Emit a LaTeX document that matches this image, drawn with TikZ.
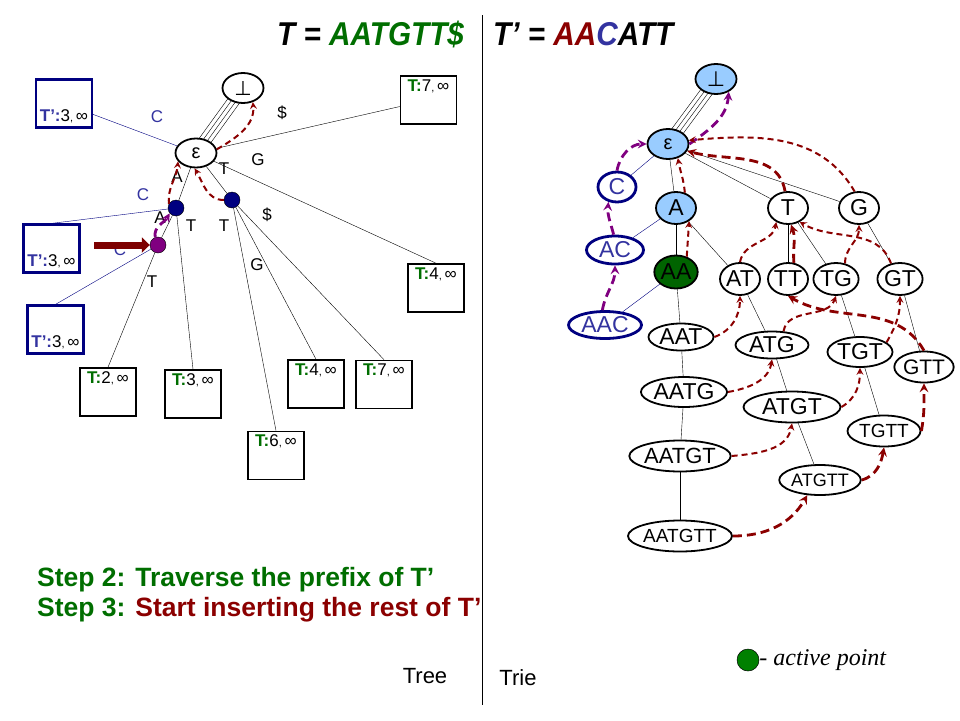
\documentclass[tikz,border=0pt]{standalone}
\usepackage{fontspec}
\setmainfont{Liberation Sans}
\newfontfamily\titlefont[FakeStretch=0.9]{Liberation Sans}
\newfontfamily\perpfont{DejaVu Sans}
\newfontfamily\apfont{Liberation Serif}
\usepackage{tikz}
\usetikzlibrary{shapes.geometric,arrows.meta,backgrounds,calc,positioning}

\definecolor{dred}{RGB}{139,0,0}
\definecolor{tgreen}{RGB}{0,110,0}
\definecolor{dgreen}{RGB}{0,100,0}
\definecolor{agreen}{RGB}{0,128,0}
\definecolor{navyb}{RGB}{0,0,128}
\definecolor{tblue}{RGB}{51,51,160}
\definecolor{purp}{RGB}{128,0,128}
\definecolor{lblue}{RGB}{153,204,255}

\newcommand{\tlab}[1]{\textcolor{tgreen}{\textbf{T:}}#1{\fontsize{11}{11}\selectfont,}\,∞}
\newcommand{\tplab}[1]{\textcolor{tblue}{\textbf{T’:}}#1{\fontsize{11}{11}\selectfont,}\,∞}
\newcommand{\leafT}[4]
{
	\node[tbox] (#1) at (#2,#3) {};
	\node[boxtxt,anchor=north] (#1-txt) at ([yshift=-3pt]#1.north) {\tlab{#4}};
}
\newcommand{\leafTp}[4]
{
	\node[tpbox] (#1) at (#2,#3) {};
	\node[boxtxt,anchor=south] (#1-txt) at ([yshift=4pt]#1.south) {\tplab{#4}};
}

\begin{document}
\begin{tikzpicture}[x=1pt,y=-1pt,>=stealth,
	lbl/.style={font=\fontsize{17}{17}\selectfont,inner sep=0pt},
	boxtxt/.style={font=\fontsize{17}{17}\selectfont,inner sep=1pt},
	tbox/.style={draw,line width=1.6pt,minimum width=56pt,minimum height=48pt,inner sep=0pt},
	tpbox/.style={tbox,draw=navyb,line width=2.2pt},
	lnode/.style={ellipse,draw,line width=1.8pt,fill=white,inner sep=0pt,minimum width=41pt,minimum height=30pt,font=\fontsize{20}{20}\selectfont},
	inode/.style={circle,fill=navyb,draw=black,line width=0.4pt,inner sep=0pt,minimum size=16pt},
	rnode/.style={ellipse,draw,line width=1.8pt,fill=white,inner sep=0pt,minimum width=40pt,minimum height=32pt,font=\fontsize{23}{23}\selectfont},
	cnode/.style={rnode,draw=navyb,line width=2.8pt,text=tblue},
	tline/.style={line width=1pt},
	slink/.style={->,draw=dred,line width=2pt,dash pattern=on 6pt off 4pt},
	slinkb/.style={slink,line width=2.8pt,dash pattern=on 9pt off 5pt},
	plink/.style={slink,draw=purp,line width=2.8pt,dash pattern=on 9pt off 5pt},
]
\useasboundingbox (0,0) rectangle (960,720);

% titles
\node[anchor=base west,inner sep=0pt,font=\fontsize{33}{33}\titlefont\bfseries\itshape] (ttl) at (277,45) {T = \textcolor{tgreen}{AATGTT\$}};
\node[anchor=base west,inner sep=0pt,font=\fontsize{33}{33}\titlefont\bfseries\itshape] (ttr) at (493,45) {T’ = \textcolor{dred}{AA}\textcolor{tblue}{C}ATT};
\coordinate (dtop) at (482,15);
\coordinate (dbot) at (482,705);
\draw[tline] (dtop) -- (dbot);

% tree (left)
\node[lnode] (lbot) at (243,88) {\perpfont ⊥};
\node[lnode,minimum height=29pt] (leps) at (196,153) {ε};
\node[inode] (n1) at (176,208) {};
\node[inode] (n2) at (232,200) {};
\node[inode,fill=purp] (np) at (158,245) {};

\leafTp{tp1}{64}{103.5}{3}
\leafTp{tp2}{51.5}{248.5}{3}
\leafTp{tp3}{55.5}{329.5}{3}
\leafT{t7a}{428.5}{100}{7}
\leafT{t4a}{436}{288}{4}
\leafT{t2}{108}{392}{2}
\leafT{t3}{193}{394}{3}
\leafT{t6}{276}{455.5}{6}
\leafT{t4b}{316}{384}{4}
\leafT{t7b}{384}{384.5}{7}

\node[lbl,text=tblue] (lc1) at (157,117) {C};
\node[lbl] (ld1) at (282,113) {\$};
\node[lbl] (lg1) at (258,160) {G};
\node[lbl] (la1) at (177,177) {A};
\node[lbl] (lt1) at (224,169) {T};
\node[lbl,text=tblue] (lc2) at (143,195) {C};
\node[lbl] (la2) at (160,218) {A};
\node[lbl] (lt2) at (191,226) {T};
\node[lbl] (lt3) at (224,226) {T};
\node[lbl] (ld2) at (267,215) {\$};
\node[lbl] (lg2) at (257,265) {G};
\node[lbl] (lt4) at (152,282) {T};

\begin{scope}[on background layer,tline]
	\foreach \d in {-6,-2,2,6}
		\draw ($(leps)!\d pt!90:(lbot)$) -- ($(lbot)!\d pt!-90:(leps)$);
	\draw[navyb] (tp1) -- (leps);
	\draw (t7a) -- (leps);
	\draw (leps) -- (t4a.north);
	\draw (leps) -- (n1) -- (np) -- (t2.north);
	\draw (n1) -- (t3.north);
	\draw[navyb] (n1) -- (tp2.north);
	\draw[navyb] (np) -- (tp3.north);
	\draw (leps) -- (n2);
	\draw (n2) -- (t6.north);
	\draw (n2) -- (t4b.north);
	\draw (n2) -- (t7b.north);
\end{scope}

\node[lbl,text=tblue] (lc3) at (120,250) {C};
\coordinate (ptr) at (94,245);
\draw[dred!90!black,line width=7pt,-{Triangle[length=8pt,width=15pt]}] (ptr) -- (np.west);

\draw[slink] (leps.10) to[out=30,in=-85] (lbot.-55);
\draw[slink] (n1.150) to[out=95,in=-95] (leps.205);
\draw[slink] (n2.west) to[out=180,in=-60] (leps.-95);
\draw[plink] (np.110) to[out=100,in=-120] (n1.220);

% trie (right)
\node[rnode,fill=lblue,minimum width=41pt,minimum height=30pt,font=\fontsize{21}{21}\selectfont] (rbot) at (716,79) {\perpfont ⊥};
\node[rnode,fill=lblue,minimum width=41pt,minimum height=30pt,font=\fontsize{20}{20}\selectfont] (reps) at (668,144) {ε};
\node[cnode,minimum width=38pt,minimum height=30pt] (rC) at (617,187) {C};
\node[rnode,fill=lblue] (rA) at (676,208) {A};
\node[rnode] (rT) at (788,208) {T};
\node[rnode] (rG) at (859,208) {G};
\node[cnode,minimum width=57pt,minimum height=28pt] (rAC) at (615,250) {AC};
\node[rnode,fill=dgreen,minimum height=33pt] (rAA) at (676,272) {AA};
\node[rnode] (rAT) at (740,279) {AT};
\node[rnode] (rTT) at (788,279) {TT};
\node[rnode] (rTG) at (836,279) {TG};
\node[rnode] (rGT) at (900,279) {GT};
\node[cnode,minimum width=73pt,minimum height=27pt] (rAAC) at (605,325) {AAC};
\node[rnode,minimum width=65pt,minimum height=27pt] (rAAT) at (681,337) {AAT};
\node[rnode,minimum width=73pt,minimum height=27pt] (rATG) at (772,345) {ATG};
\node[rnode,minimum width=57pt,minimum height=30pt] (rTGT) at (860,352) {TGT};
\node[rnode,minimum width=57pt,minimum height=31pt,font=\fontsize{21}{21}\selectfont] (rGTT) at (924,367) {GTT};
\node[rnode,minimum width=73pt,minimum height=30pt] (rAATG) at (684,392) {AATG};
\node[rnode,minimum width=97pt,minimum height=31pt] (rATGT) at (792,407) {ATGT};
\node[rnode,minimum width=73pt,minimum height=31pt,font=\fontsize{19}{19}\selectfont] (rTGTT) at (884,431) {TGTT};
\node[rnode,minimum width=97pt,minimum height=31pt,font=\fontsize{22}{22}\selectfont] (rAATGT) at (680,456) {AATGT};
\node[rnode,minimum width=73pt,minimum height=30pt,font=\fontsize{18}{18}\selectfont] (rATGTT) at (820,480) {ATGTT};
\node[rnode,minimum width=97pt,minimum height=31pt,font=\fontsize{19}{19}\selectfont] (rAATGTT) at (680,536) {AATGTT};

\begin{scope}[on background layer,tline]
	\foreach \d in {-6,-2,2,6}
		\draw ($(reps)!\d pt!90:(rbot)$) -- ($(rbot)!\d pt!-90:(reps)$);
	\foreach \a/\b in {reps/rA,reps/rT,reps/rG,rA/rAA,rA/rAT,rT/rTT,rT/rTG,rG/rGT,rAA/rAAT,rAT/rATG,rTG/rTGT,rGT/rGTT,rAAT/rAATG,rATG/rATGT,rTGT/rTGTT,rAATG/rAATGT,rATGT/rATGTT,rAATGT/rAATGTT}
		\draw (\a) -- (\b);
	\foreach \a/\b in {reps/rC,rA/rAC,rAA/rAAC}
		\draw[navyb] (\a) -- (\b);
\end{scope}

\draw[plink] (reps.east) to[out=35,in=-95] (rbot.-45);
\draw[plink] (rC.north) to[out=80,in=180] (reps.west);
\draw[plink] (rAC.95) to[out=105,in=-95] (rC.240);
\draw[plink] (rAAC.100) to[out=80,in=-90] (rAC.south);
\draw[slink] (rA.60) to[out=95,in=-80] (reps.-55);
\draw[slink] (rAA.55) -- (rA.-45);
\draw[slinkb] (rT.100) to[out=100,in=-15] (reps.-20);
\draw[slink] (rG.105) to[out=120,in=5] (reps.10);
\draw[slink] (rAT.north) to[out=80,in=-100] (rT.-130);
\draw[slinkb] (rTT.70) to[out=95,in=-70] (rT.-80);
\draw[slink] (rTG.60) to[out=90,in=-90] (rG.south);
\draw[slink] (rGT.120) to[out=110,in=-30] (rT.-50);
\draw[slink] (rAAT.east) to[out=20,in=-90] (rAT.south);
\draw[slink] (rATG.50) to[out=80,in=-110] (rTG.south);
\draw[slinkb] (rGTT.north) to[out=120,in=-30] (rTT.south);
\draw[slink] (rTGT.20) to[out=60,in=-90] (rGT.south);
\draw[slink] (rAATG.east) to[out=10,in=-100] (rATG.south);
\draw[slink] (rATGT.east) to[out=30,in=-90] (rTGT.south);
\draw[slink] (rAATGT.east) to[out=5,in=-100] (rATGT.south);
\draw[slinkb] (rTGTT.east) to[out=80,in=-90] (rGTT.south);
\draw[slinkb] (rATGTT.east) to[out=15,in=-100] (rTGTT.south);
\draw[slinkb] (rAATGTT.east) to[out=0,in=-120] (rATGTT.-130);

% steps and legend
\node[anchor=base west,inner sep=0pt,text=tgreen,font=\fontsize{26.5}{26.5}\selectfont\bfseries] (step2) at (37,586) {Step 2: Traverse the prefix of T’};
\node[anchor=base west,inner sep=0pt,text=tgreen,font=\fontsize{26.5}{26.5}\selectfont\bfseries] (step3) at (37,616) {Step 3: \textcolor{dred}{Start inserting the rest of T’}};
\node[font=\fontsize{22}{22}\selectfont] (tree) at (425,676) {Tree};
\node[font=\fontsize{22}{22}\selectfont] (trie) at (518,678) {Trie};
\node[circle,fill=agreen,draw=black,line width=0.5pt,minimum size=22pt,inner sep=0pt] (apdot) at (748,660) {};
\node[anchor=west,inner sep=0pt,font=\fontsize{24}{24}\apfont\itshape] (aptxt) at (apdot.east) {- active point};
\end{tikzpicture}
\end{document}
